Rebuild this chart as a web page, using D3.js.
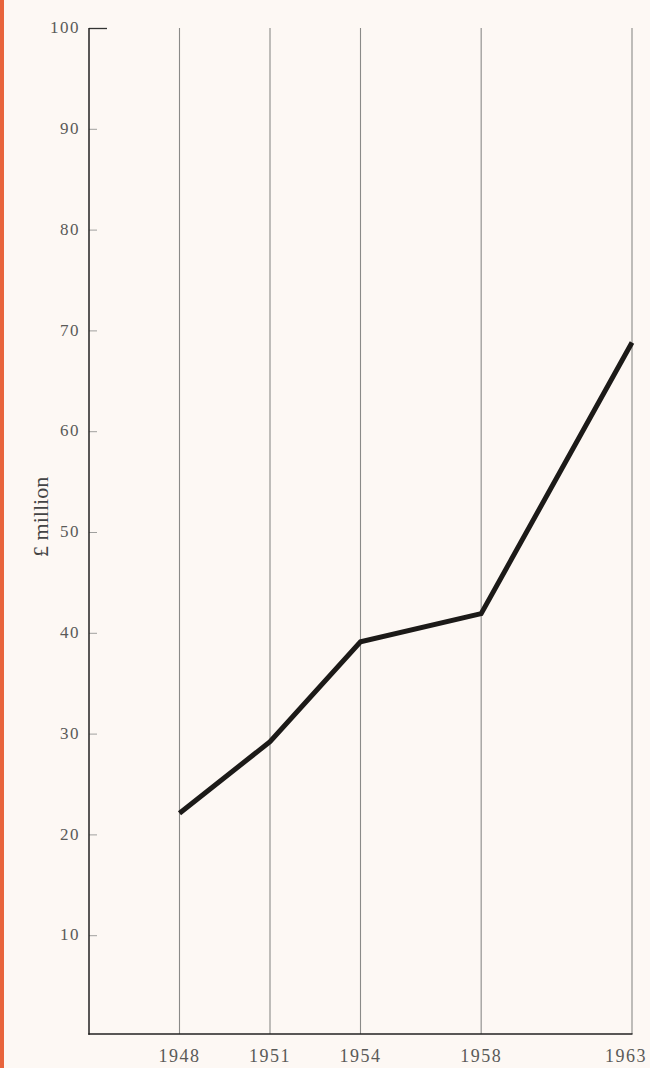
<!DOCTYPE html>
<html>
<head>
<meta charset="utf-8">
<script src="https://cdn.jsdelivr.net/npm/d3@7"></script>
<style>
  html, body { margin: 0; padding: 0; background: #fdf8f4; }
  svg { display: block; }
  text { font-family: "Liberation Serif", "DejaVu Serif", serif; }
</style>
</head>
<body>
<svg id="chart" width="650" height="1068"></svg>
<script>
const years = [1948, 1951, 1954, 1958, 1963];
const values = [22.1, 29.2, 39.1, 41.9, 68.8];
const yTicks = [10, 20, 30, 40, 50, 60, 70, 80, 90, 100];
const yLabel = "£ million";

const svg = d3.select("#chart");
const W = 650, H = 1068;

svg.append("rect").attr("x", 0).attr("y", 0).attr("width", W).attr("height", H).attr("fill", "#fdf8f4");
svg.append("rect").attr("x", 0).attr("y", 0).attr("width", 4).attr("height", H).attr("fill", "#e8643c");

const x = d3.scaleLinear().domain([1945, 1963]).range([89, 632]);
const y = d3.scaleLinear().domain([0, 100]).range([1036, 28]);
const axisBottomY = 1034;

// vertical grid lines at each year
svg.append("g").selectAll("line").data(years).join("line")
  .attr("x1", d => x(d)).attr("x2", d => x(d))
  .attr("y1", y(100)).attr("y2", axisBottomY)
  .attr("stroke", "#8a8a88").attr("stroke-width", 1.1);

// y axis ticks
const yAxis = d3.axisRight(y).tickValues(yTicks).tickSize(8).tickFormat("");
const gy = svg.append("g").attr("transform", `translate(${x(1945)},0)`).call(yAxis);
gy.select(".domain").remove();
gy.selectAll(".tick line").attr("stroke", "#a0a09e").attr("stroke-width", 1);
gy.selectAll(".tick").filter(d => d === 100).select("line").attr("x2", 18).attr("stroke", "#333").attr("stroke-width", 1.3);

svg.append("line")
  .attr("x1", x(1945)).attr("x2", x(1945))
  .attr("y1", y(100)).attr("y2", axisBottomY + 0.7)
  .attr("stroke", "#222").attr("stroke-width", 1.5);

// bottom axis
svg.append("line")
  .attr("x1", x(1945) - 0.7).attr("x2", x(1963) + 0.5)
  .attr("y1", axisBottomY).attr("y2", axisBottomY)
  .attr("stroke", "#222").attr("stroke-width", 1.5);

// y tick labels
svg.append("g").selectAll("text").data(yTicks).join("text")
  .attr("x", 80).attr("y", d => y(d))
  .attr("dy", "0.3em")
  .attr("text-anchor", "end")
  .attr("font-size", 17)
  .attr("letter-spacing", 1.5)
  .attr("fill", "#5a5a58")
  .text(d => d);

// x tick labels
const last = years[years.length - 1];
svg.append("g").selectAll("text").data(years).join("text")
  .attr("x", d => d === last ? W - 3 : x(d)).attr("y", 1062)
  .attr("text-anchor", d => d === last ? "end" : "middle")
  .attr("font-size", 18)
  .attr("letter-spacing", 1.5)
  .attr("fill", "#5a5a58")
  .text(d => d);

// y axis title
svg.append("text")
  .attr("transform", `translate(48, ${y(51.5)}) rotate(-90)`)
  .attr("text-anchor", "middle")
  .attr("font-size", 22)
  .attr("fill", "#444")
  .text(yLabel);

// data line
const line = d3.line().x((d, i) => x(years[i])).y(d => y(d));
svg.append("path")
  .datum(values)
  .attr("d", line)
  .attr("fill", "none")
  .attr("stroke", "#1c1a18")
  .attr("stroke-width", 5)
  .attr("stroke-linejoin", "miter");
</script>
</body>
</html>
